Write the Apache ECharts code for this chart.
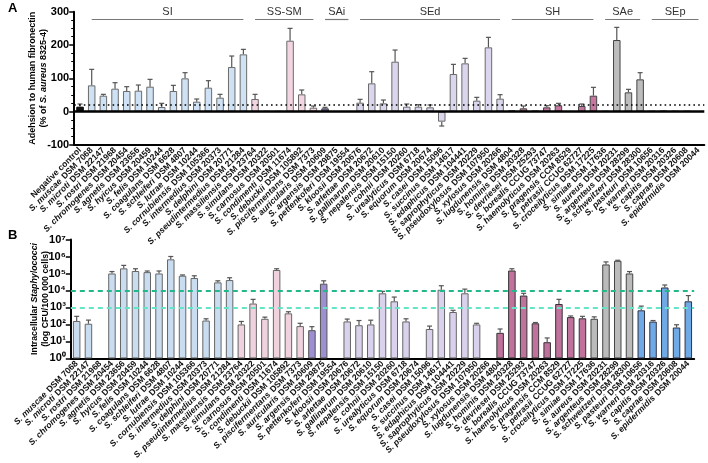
<!DOCTYPE html>
<html><head><meta charset="utf-8">
<script src="https://cdn.jsdelivr.net/npm/echarts@6/dist/echarts.min.js"></script>
<style>html,body{margin:0;padding:0;background:#fff}#c{width:708px;height:463px}</style>
</head><body><div id="c"></div>
<script>
// ---------------- DATA ----------------
const speciesLabels = [
'S. muscae DSM 7068','S. microti DSM 22147','S. rostri DSM 21968','S. chromogenes DSM 20454','S. agnetis DSM 23656',
'S. hyicus DSM 20459','S. felis DSM 10244','S. coagulans DSM 6628','S. schleiferi DSM 4807','S. lutrae DSM 10244',
'S. cornubiensis DSM 105366','S. intermedius DSM 20373','S. delphini DSM 20771','S. pseudintermedius DSM 21284',
'S. massiliensis DSM 23764','S. simulans DSM 20322','S. carnosus DSM 20501','S. condimenti DSM 11674','S. debuckii DSM 105892',
'S. piscifermentans DSM 7373','S. auricularis DSM 20609','S. argensis DSM 29875','S. pettenkoferi DSM 19554',
'S. kloosii DSM 20676','S. arlettae DSM 20672','S. gallinarum DSM 20610','S. nepalensis DSM 15150','S. cohnii DSM 20260',
'S. urealyticus DSM 6718','S. equorum DSM 20674','S. casei DSM 15096','S. succinus DSM 14617','S. edaphicus DSM 104441',
'S. saprophyticus DSM 20229','S. pseudoxylosus DSM 107950','S. xylosus DSM 20266',
'S. lugdunensis DSM 4804','S. hominis DSM 20328','S. devriesei DSM 25293','S. borealis CCUG 73747','S. haemolyticus DSM 20263',
'S. pragensis CCM 8529','S. petrasii CCUG 62727','S. croceilyticus DSM 17225',
'S. simiae DSM 17636','S. aureus DSM 20231','S. argenteus DSM 28299','S. schweitzeri DSM 28300',
'S. pasteuri DSM 10656','S. warneri DSM 20316','S. capitis DSM 20326','S. caprae DSM 20608','S. epidermidis DSM 20044'
];
const negativeLabel = 'Negative control';
const groupNames = ['SI','SS-SM','SAi','SEd','SH','SAe','SEp'];
const groupSizes = [14, 6, 3, 13, 8, 4, 5];

// Panel A: adhesion (% of S. aureus 8325-4); first value = negative control
const adhesionMean = [15,
 79,48,69,62,63,75,14,62,100,30,72,42,134,172,
 38,2,2,213,52,12,
 10,null,null,
 27,85,25,150,15,15,13,-30,113,145,33,193,39,
 4,10,3,13,19,null,17,48,
 2,215,58,97,
 2,3,2,2,1];
const adhesionErr = [23,
 127,52,87,75,80,97,25,79,117,38,93,52,167,187,
 52,null,null,250,65,17,
 13,null,null,
 37,120,35,185,23,21,20,-43,142,160,43,223,51,
 null,17,null,18,25,null,23,73,
 null,253,67,117,
 null,null,null,null,null];
const thresholdA = 21;
const bracketLevelA = 277;

// Panel B: intracellular CFU per 100 000 cells
const intraMean = [
 160,110,null,100000,200000,140000,120000,100000,680000,74000,54000,170,30000,41000,
 100,1700,215,160000,450,80,
 46,25000,null,
 150,90,100,6800,2300,150,null,54,11000,540,6800,100,null,
 32,150000,5000,117,9,1600,270,230,
 215,340000,560000,100000,
 680,147,15000,66,2300];
const intraErr = [
 300,180,null,130000,300000,190000,140000,140000,1000000,82000,73000,215,37000,56000,
 150,3000,270,190000,560,117,
 74,37000,null,
 207,170,178,8900,4100,215,null,80,19000,680,12000,117,null,
 54,190000,6800,130,16,3000,316,300,
 280,480000,600000,130000,
 1200,170,21000,96,5000];
const thresholdsB = [10000, 1000];
const logTickLabels = ['10\u2070','10\u00b9','10\u00b2','10\u00b3','10\u2074','10\u2075','10\u2076','10\u2077'];

// ---------------- STYLE ----------------
const FF = '"Liberation Sans", Arial, sans-serif';
const LFS = 8.6;
const fillA = {'SI':'#cfe2f5','SS-SM':'#f3d5e1','SAi':'#6e6aa9','SEd':'#dcd5ee','SH':'#c5779f','SAe':'#bdbdbd','SEp':'#4f78b5'};
const edgeA = {'SI':'#6b6b6b','SS-SM':'#6b6b6b','SAi':'#444','SEd':'#6b6b6b','SH':'#444','SAe':'#444','SEp':'#333'};
const fillB = {'SI':'#c9dcf0','SS-SM':'#efd2de','SAi':'#9e8fd3','SEd':'#dad2ec','SH':'#c0729c','SAe':'#bbbbbb','SEp':'#6fa9e6'};
const edgeB = {'SI':'#666','SS-SM':'#666','SAi':'#555','SEd':'#666','SH':'#333','SAe':'#444','SEp':'#334'};

const groupOf = [];
groupSizes.forEach((n, g) => { for (let k = 0; k < n; k++) groupOf.push(groupNames[g]); });
const categoriesA = [negativeLabel].concat(speciesLabels);

function labelFmt(v) {
  const m = v.match(/^(.*?) ((DSM|CCUG|CCM) .*)$/);
  if (!m) return '{n|' + v + '}';
  return '{i|' + m[1] + '} {n|' + m[2] + '}';
}
const labelRich = {
  i: {fontStyle:'italic', fontWeight:'bold', fontSize:LFS, fontFamily:FF, color:'#111'},
  n: {fontWeight:'bold', fontSize:LFS, fontFamily:FF, color:'#111'}
};
function catAxis(grid, data) {
  return {
    gridIndex: grid, type:'category', data: data,
    axisLine:{onZero:false, lineStyle:{color:'#000', width:2}},
    axisTick:{alignWithLabel:true, interval:0, length:4, lineStyle:{color:'#000', width:1.5}},
    axisLabel:{interval:0, rotate:45, margin:4, formatter: labelFmt, rich: labelRich}
  };
}
function errRender(params, api) {
  const i = api.value(0), v = api.value(1), e = api.value(2);
  const a = api.coord([i, v]), b = api.coord([i, e]);
  const st = {stroke:'#555', lineWidth:1.2};
  return {type:'group', children:[
    {type:'line', shape:{x1:a[0], y1:a[1], x2:b[0], y2:b[1]}, style:st},
    {type:'line', shape:{x1:b[0]-2.5, y1:b[1], x2:b[0]+2.5, y2:b[1]}, style:st}
  ]};
}

const barDataA = adhesionMean.map((v, i) => {
  const g = i === 0 ? null : groupOf[i-1];
  return {value: v == null ? '-' : v, itemStyle:{color: g ? fillA[g] : '#111', borderColor: g ? edgeA[g] : '#000', borderWidth:1}};
});
const errDataA = [];
adhesionErr.forEach((e, i) => { if (e != null && adhesionMean[i] != null) errDataA.push([i, adhesionMean[i], e]); });

const barDataB = intraMean.map((v, i) => {
  const g = groupOf[i];
  return {value: v == null ? '-' : v, itemStyle:{color: fillB[g], borderColor: edgeB[g], borderWidth:1}};
});
const errDataB = [];
intraErr.forEach((e, i) => { if (e != null && intraMean[i] != null) errDataB.push([i, intraMean[i], e]); });

// bracket mark lines (panel A)
const brackets = [];
let start = 1;
groupSizes.forEach((n, g) => {
  brackets.push([
    {coord:[categoriesA[start], bracketLevelA], lineStyle:{color:'#777', width:1.2, type:'solid'},
     label:{show:true, formatter: groupNames[g], position:'insideMiddleTop', distance:2, color:'#333', fontSize:11, fontFamily:FF}},
    {coord:[categoriesA[start+n-1], bracketLevelA]}
  ]);
  start += n;
});

function nameRich(fs) {
  return {
    b:{fontWeight:'bold', fontSize:fs, fontFamily:FF, color:'#000', lineHeight:11},
    bi:{fontWeight:'bold', fontStyle:'italic', fontSize:fs, fontFamily:FF, color:'#000', lineHeight:11}
  };
}

const option = {
  animation:false,
  title:[
    {text:'A', left:3, top:-3, textStyle:{fontSize:13, fontWeight:'bold', fontFamily:FF, color:'#000'}},
    {text:'B', left:3, top:224, textStyle:{fontSize:13, fontWeight:'bold', fontFamily:FF, color:'#000'}}
  ],
  grid:[
    {left:74.2, width:630.1, top:11.7, height:133.3},
    {left:70.8, width:623.4, top:239.5, height:140}
  ],
  xAxis:[catAxis(0, categoriesA), catAxis(1, speciesLabels)],
  yAxis:[
    {gridIndex:0, type:'value', min:-100, max:300, interval:100,
     axisLine:{show:true, lineStyle:{color:'#000', width:2}},
     axisTick:{show:true, length:5, lineStyle:{color:'#000', width:1.5}},
     minorTick:{show:true, splitNumber:4, length:3, lineStyle:{color:'#000', width:1}},
     splitLine:{show:false},
     axisLabel:{fontWeight:'bold', fontSize:11, color:'#000', fontFamily:FF, margin:5},
     name:'{b|Adehsion to human fibronectin}\n{b|(% of }{bi|S. aureus}{b| 8325-4)}',
     nameLocation:'middle', nameGap:25, nameMoveOverlap:false,
     nameTextStyle:{lineHeight:11, rich:nameRich(9)}},
    {gridIndex:1, type:'log', logBase:10, min:1, max:10000000, splitNumber:7,
     axisLine:{show:true, lineStyle:{color:'#000', width:2}},
     axisTick:{show:true, length:5, lineStyle:{color:'#000', width:1.5}},
     splitLine:{show:false},
     axisLabel:{fontWeight:'bold', fontSize:11, color:'#000', fontFamily:FF, margin:5,
       formatter: v => logTickLabels[Math.round(Math.log10(v))]},
     name:'{b|Intracellular }{bi|Staphylococci}\n{b|(log CFU/100 000 cells)}',
     nameLocation:'middle', nameGap:20, nameMoveOverlap:false,
     nameTextStyle:{lineHeight:11, rich:nameRich(8.8)}}
  ],
  series:[
    {type:'bar', xAxisIndex:0, yAxisIndex:0, barWidth:7.5, data:barDataA, z:2,
     markLine:{silent:true, symbol:'none', animation:false, label:{show:false},
       data:[
         {yAxis:0, lineStyle:{color:'#000', width:2.5, type:'solid'}},
         {yAxis:thresholdA, lineStyle:{color:'#000', width:1.6, type:[1.6,3.2]}}
       ].concat(brackets)}},
    {type:'custom', xAxisIndex:0, yAxisIndex:0, renderItem:errRender, data:errDataA, z:3},
    {type:'bar', xAxisIndex:1, yAxisIndex:1, barWidth:7.5, data:barDataB, z:2,
     markLine:{silent:true, symbol:'none', animation:false, label:{show:false},
       data:[
         {yAxis:thresholdsB[0], lineStyle:{color:'#21b98a', width:1.8, type:[5,4]}},
         {yAxis:thresholdsB[1], lineStyle:{color:'#62e6c6', width:1.8, type:[5,4]}}
       ]}},
    {type:'custom', xAxisIndex:1, yAxisIndex:1, renderItem:errRender, data:errDataB, z:3}
  ]
};
echarts.init(document.getElementById('c')).setOption(option);
</script></body></html>
